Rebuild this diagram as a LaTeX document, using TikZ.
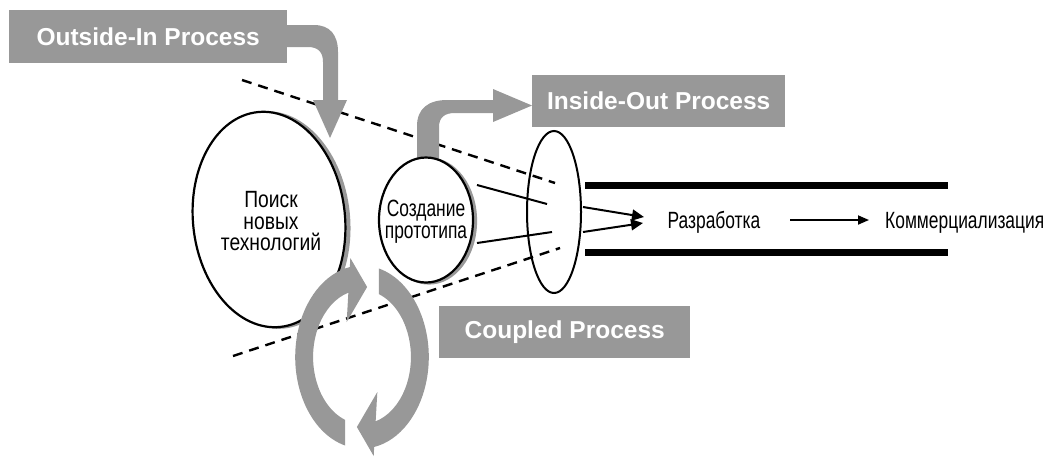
\documentclass[tikz,border=0pt]{standalone}
\usepackage{fontspec}
\setmainfont{Liberation Sans}
\newfontfamily\condfont[FakeStretch=0.74]{Liberation Sans}
\newfontfamily\wcondfont[FakeStretch=0.82]{Liberation Sans}
\usetikzlibrary{shapes.geometric,arrows.meta}
\definecolor{pgray}{RGB}{152,152,152}
\tikzset{
  graybox/.style={fill=pgray, text=white, font=\fontsize{24.5}{28}\selectfont\bfseries,
    inner sep=0pt, anchor=north west},
  grayshape/.style={fill=pgray, draw=none},
  ovalbox/.style={ellipse, draw=black, fill=white, line width=2.2pt, inner sep=0pt},
  ovalshadow/.style={ellipse, draw=pgray, fill=pgray, line width=2.2pt, inner sep=0pt},
  ctext/.style={font=\condfont\fontsize{23.5}{22}\selectfont, align=center, inner sep=0pt},
  bigtext/.style={font=\wcondfont\fontsize{23.5}{21.5}\selectfont, align=center, inner sep=0pt},
  borderline/.style={line width=2.4pt, dash pattern=on 10pt off 7pt},
  thinline/.style={line width=2pt},
  flowarrow/.style={line width=2pt, -{Triangle[length=12pt,width=11pt]}},
  longarrow/.style={line width=1.8pt, -{Triangle[length=11pt,width=9pt]}},
  bar/.style={line width=7pt}
}
\begin{document}
\begin{tikzpicture}[x=1pt,y=-1pt]
\useasboundingbox (0,0) rectangle (1056,456);

% dashed funnel borders
\coordinate (d1a) at (242,80);
\coordinate (d1b) at (555,183);
\coordinate (d2a) at (233,356);
\coordinate (d2b) at (560,248);
\draw[borderline] (d1a) -- (d1b);
\draw[borderline] (d2a) -- (d2b);

% inside-out arrow (behind the small ellipse)
\fill[grayshape] (417,165) -- (417,126) .. controls (417,109) and (428,100) .. (447,100)
  -- (493,100) -- (493,89) -- (532,105.5) -- (493,122) -- (493,113) -- (455,113)
  .. controls (445,113) and (439,117) .. (439,127) -- (439,165) -- cycle;

% big ellipse
\node[ovalshadow, minimum width=152pt, minimum height=216pt, rotate=6] (searchsh) at (273,220) {};
\node[ovalbox, minimum width=152pt, minimum height=216pt, rotate=6] (search) at (269,219.5) {};
\node[bigtext] (searchtxt) at (271,221.5) {Поиск\\новых\\технологий};

% small ellipse
\node[ovalshadow, minimum width=94pt, minimum height=125pt] (protosh) at (429,221) {};
\node[ovalbox, minimum width=94pt, minimum height=125pt] (proto) at (426,220) {};
\node[ctext] (prototxt) at (426,222) {Создание\\прототипа};

% tall ellipse
\node[ellipse, draw=black, line width=2pt, inner sep=0pt, minimum width=54pt, minimum height=162pt] (gate) at (554,212) {};

% lines into the tall ellipse
\coordinate (s1a) at (477,185);
\coordinate (s1b) at (547,204);
\coordinate (s2a) at (477,243);
\coordinate (s2b) at (552,232);
\draw[thinline] (s1a) -- (s1b);
\draw[thinline] (s2a) -- (s2b);

% development channel
\draw[bar] (585,185) -- (948,185);
\draw[bar] (585,252) -- (948,252);
\node[ctext, anchor=base] (dev) at (714,228) {Разработка};
\node[ctext, anchor=base west] (comm) at (885,228) {Коммерциализация};
\coordinate (g1) at (583,207);
\coordinate (g2) at (583,232);
\coordinate (t1) at (644,217);
\coordinate (t2) at (643,223);
\draw[flowarrow] (g1) -- (t1);
\draw[flowarrow] (g2) -- (t2);
\coordinate (la) at (790,220);
\coordinate (lb) at (869,220);
\draw[longarrow] (la) -- (lb);

% outside-in box and arrow
\node[graybox, minimum width=278pt, minimum height=53pt] (oibox) at (9,10) {Outside-In Process};
\fill[grayshape] (286,25) -- (314,25) .. controls (330,25) and (338,35) .. (338,52)
  -- (338,100) -- (347,100) -- (330,138) -- (313,100) -- (323,100) -- (323,62)
  .. controls (323,52) and (318,47) .. (308,47) -- (286,47) -- cycle;

% inside-out box
\node[graybox, minimum width=253pt, minimum height=52pt] (iobox) at (532,75) {Inside-Out Process};

% coupled box
\node[graybox, minimum width=251pt, minimum height=52pt] (cpbox) at (439,306) {Coupled Process};

% coupled cycle arrows
\begin{scope}[shift={(362,357)}, xscale=0.73, yscale=-1]
  \fill[grayshape] (255.4:91.5) arc[start angle=255.4, end angle=100.5, radius=91.5]
    -- (-16,99) -- (7,70) -- (-21,35) -- (106.2:67)
    arc[start angle=106.2, end angle=249.9, radius=67] -- cycle;
  \begin{scope}[rotate=180]
  \fill[grayshape] (255.4:91.5) arc[start angle=255.4, end angle=100.5, radius=91.5]
    -- (-16,99) -- (7,70) -- (-21,35) -- (106.2:67)
    arc[start angle=106.2, end angle=249.9, radius=67] -- cycle;
  \end{scope}
\end{scope}
\end{tikzpicture}
\end{document}
